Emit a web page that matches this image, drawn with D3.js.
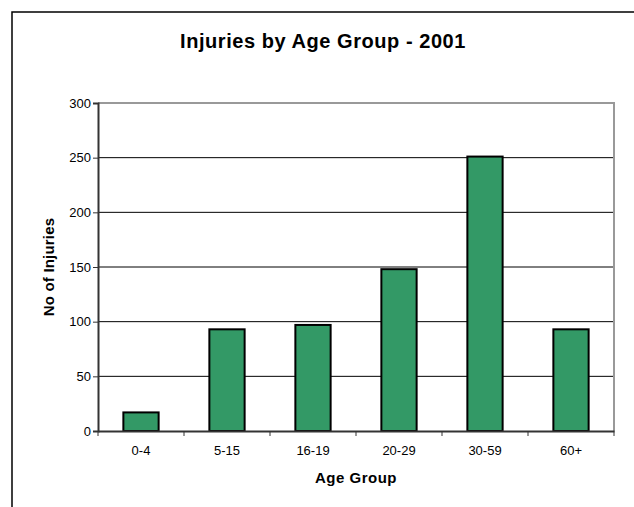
<!DOCTYPE html>
<html>
<head>
<meta charset="utf-8">
<script src="https://cdn.jsdelivr.net/npm/d3@7/dist/d3.min.js"></script>
<style>
  html, body { margin: 0; padding: 0; background: #fff; }
  svg { display: block; font-family: Arial, "Liberation Sans", sans-serif; }
</style>
</head>
<body>
<svg id="chart" width="634" height="507"></svg>
<script>
const categories = ["0-4", "5-15", "16-19", "20-29", "30-59", "60+"];
const injuries = [17, 93, 97, 148, 251, 93];
const yTicks = [0, 50, 100, 150, 200, 250, 300];
const titleText = "Injuries by Age Group - 2001";
const xTitle = "Age Group";
const yTitle = "No of Injuries";

const svg = d3.select("#chart");
const W = 634, H = 507;
const plot = { left: 98, top: 103, right: 614, bottom: 431 };
const FONT = "Arial, 'Liberation Sans', sans-serif";

// outer chart border (cropped at right/bottom)
svg.append("rect")
  .attr("x", 12).attr("y", 12)
  .attr("width", W + 20).attr("height", H + 20)
  .attr("fill", "#fff").attr("stroke", "#000").attr("stroke-width", 1.5);

const x = d3.scaleBand().domain(categories).range([plot.left, plot.right]).padding(0);
const y = d3.scaleLinear().domain([0, 300]).range([plot.bottom, plot.top]);

// gridlines
svg.append("g").selectAll("line")
  .data(yTicks.filter(t => t > 0 && t < 300))
  .join("line")
  .attr("x1", plot.left).attr("x2", plot.right)
  .attr("y1", d => y(d)).attr("y2", d => y(d))
  .attr("stroke", "#000").attr("stroke-width", 1);

// plot area top/right border
svg.append("path")
  .attr("d", `M${plot.left},${y(300)}H${plot.right}V${plot.bottom}`)
  .attr("fill", "none").attr("stroke", "#999").attr("stroke-width", 2);

// bars
const barW = x.bandwidth() * 0.41;
svg.append("g").selectAll("rect")
  .data(categories.map((c, i) => ({ c, v: injuries[i] })))
  .join("rect")
  .attr("x", d => x(d.c) + (x.bandwidth() - barW) / 2)
  .attr("y", d => y(d.v))
  .attr("width", barW)
  .attr("height", d => y(0) - y(d.v))
  .attr("fill", "#339966")
  .attr("stroke", "#000")
  .attr("stroke-width", 2);

// y axis
const yAxis = svg.append("g")
  .attr("transform", `translate(${plot.left},0)`)
  .call(d3.axisLeft(y).tickValues(yTicks).tickSize(5).tickPadding(2).tickFormat(d3.format("d")));
yAxis.select(".domain").attr("stroke", "#333").attr("stroke-width", 2);
yAxis.selectAll(".tick line").attr("stroke", "#333").attr("stroke-width", 1);
yAxis.selectAll(".tick text").attr("font-size", 13).attr("fill", "#000")
  .attr("font-family", FONT);

// x axis
const xAxis = svg.append("g")
  .attr("transform", `translate(0,${plot.bottom})`)
  .call(d3.axisBottom(x).tickSize(0).tickPadding(15));
xAxis.select(".domain").attr("stroke", "#333").attr("stroke-width", 2);
xAxis.selectAll(".tick text").attr("font-size", 13).attr("fill", "#000")
  .attr("font-family", FONT);
// boundary tick marks between categories
const boundaries = categories.map(c => x(c)).concat([plot.right]);
svg.append("g").selectAll("line")
  .data(boundaries)
  .join("line")
  .attr("x1", d => d).attr("x2", d => d)
  .attr("y1", plot.bottom).attr("y2", plot.bottom + 5)
  .attr("stroke", "#333").attr("stroke-width", 1);

// titles
svg.append("text")
  .attr("x", 323).attr("y", 48)
  .attr("text-anchor", "middle")
  .attr("font-size", 20).attr("font-weight", "bold")
  .attr("letter-spacing", 0.55)
  .text(titleText);

svg.append("text")
  .attr("x", 356).attr("y", 483)
  .attr("text-anchor", "middle")
  .attr("font-size", 15).attr("font-weight", "bold")
  .attr("letter-spacing", 0.5)
  .text(xTitle);

svg.append("text")
  .attr("transform", `translate(54,${(plot.top + plot.bottom) / 2}) rotate(-90)`)
  .attr("text-anchor", "middle")
  .attr("font-size", 15).attr("font-weight", "bold")
  .attr("letter-spacing", 0.2)
  .text(yTitle);
</script>
</body>
</html>
